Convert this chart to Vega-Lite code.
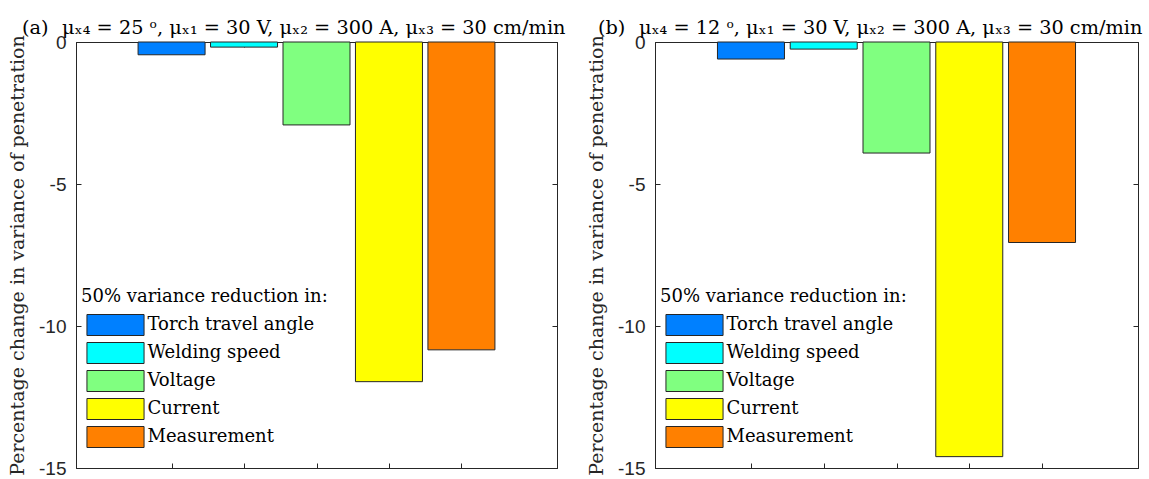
{
  "$schema": "https://vega.github.io/schema/vega-lite/v6.json",
  "padding": {"left": 8, "top": 18, "right": 5, "bottom": 5},
  "background": "white",
  "datasets": {
    "bars": [
      {"panel": "a", "cat": "Torch travel angle", "pos": 1, "value": -0.45},
      {"panel": "a", "cat": "Welding speed", "pos": 2, "value": -0.18},
      {"panel": "a", "cat": "Voltage", "pos": 3, "value": -2.92},
      {"panel": "a", "cat": "Current", "pos": 4, "value": -11.96},
      {"panel": "a", "cat": "Measurement", "pos": 5, "value": -10.84},
      {"panel": "b", "cat": "Torch travel angle", "pos": 1, "value": -0.6},
      {"panel": "b", "cat": "Welding speed", "pos": 2, "value": -0.25},
      {"panel": "b", "cat": "Voltage", "pos": 3, "value": -3.91},
      {"panel": "b", "cat": "Current", "pos": 4, "value": -14.6},
      {"panel": "b", "cat": "Measurement", "pos": 5, "value": -7.06}
    ]
  },
  "data": {"name": "bars"},
  "config": {
    "view": {"stroke": "#262626", "strokeWidth": 1},
    "axis": {
      "domainColor": "#262626", "tickColor": "#262626", "tickSize": -5, "tickWidth": 1,
      "labelFont": "Liberation Sans", "labelFontSize": 19, "labelColor": "#262626",
      "grid": false, "zindex": 1,
      "titleFont": "DejaVu Serif", "titleFontSize": 19, "titleFontWeight": "normal", "titleColor": "#262626"
    },
    "title": {"font": "DejaVu Serif", "fontSize": 19.3, "fontWeight": "normal", "color": "black"},
    "legend": {
      "orient": "none", "legendX": 5, "legendY": 246, "padding": 0,
      "titleFont": "DejaVu Serif", "titleFontSize": 18, "titleFontWeight": "normal", "titleColor": "black", "titlePadding": 8, "titleLimit": 400,
      "labelFont": "DejaVu Serif", "labelFontSize": 18, "labelColor": "black", "labelOffset": 21, "labelLimit": 400,
      "symbolType": "M-2.72,-1H2.72V1H-2.72Z", "symbolSize": 441, "symbolOffset": 23.5,
      "symbolStrokeColor": "#262626", "symbolStrokeWidth": 1, "symbolOpacity": 1, "rowPadding": 2
    }
  },
  "spacing": 21,
  "resolve": {"scale": {"color": "shared"}, "legend": {"color": "independent"}},
  "hconcat": [
    {
      "width": 481, "height": 426,
      "title": {"text": "(a)\u2002\u2009μₓ₄ = 25 ᵒ, μₓ₁ = 30 V, μₓ₂ = 300 A, μₓ₃ = 30 cm/min", "anchor": "start", "frame": "group", "dx": -54, "baseline": "alphabetic", "offset": -20},
      "transform": [{"filter": "datum.panel === 'a'"}],
      "layer": [
        {
          "mark": {"type": "bar", "size": 67, "stroke": "#262626", "strokeWidth": 1},
          "encoding": {
            "x": {"field": "pos", "type": "quantitative", "scale": {"domain": [-0.25, 6.25], "nice": false, "zero": false},
                  "axis": {"orient": "bottom", "values": [1, 2, 3, 4, 5], "labels": false, "title": null}},
            "y": {"field": "value", "type": "quantitative", "scale": {"domain": [-15, 0], "nice": false},
                  "axis": {"orient": "left", "values": [0, -5, -10, -15], "labelPadding": 15, "labelExpr": "datum.value == 0 ? '0' : '-' + abs(datum.value)",
                           "title": "Percentage change in variance of penetration", "titlePadding": 11}},
            "y2": {"datum": 0},
            "color": {"field": "cat", "type": "nominal",
                      "scale": {"domain": ["Torch travel angle", "Welding speed", "Voltage", "Current", "Measurement"],
                                "range": ["#0080FF", "#00FFFF", "#80FF80", "#FFFF00", "#FF8000"]},
                      "legend": {"title": "50% variance reduction in:"}}
          }
        },
        {
          "mark": {"type": "bar", "size": 67, "opacity": 0},
          "encoding": {
            "x": {"field": "pos", "type": "quantitative", "axis": {"orient": "top", "values": [1, 2, 3, 4, 5], "labels": false, "title": null}},
            "y": {"field": "value", "type": "quantitative", "axis": {"orient": "right", "values": [0, -5, -10, -15], "labels": false, "title": null}},
            "y2": {"datum": 0}
          }
        }
      ],
      "resolve": {"axis": {"x": "independent", "y": "independent"}}
    },
    {
      "width": 483, "height": 426,
      "title": {"text": "(b)\u2002\u2009μₓ₄ = 12 ᵒ, μₓ₁ = 30 V, μₓ₂ = 300 A, μₓ₃ = 30 cm/min", "anchor": "start", "frame": "group", "dx": -57, "baseline": "alphabetic", "offset": -20},
      "transform": [{"filter": "datum.panel === 'b'"}],
      "layer": [
        {
          "mark": {"type": "bar", "size": 67, "stroke": "#262626", "strokeWidth": 1},
          "encoding": {
            "x": {"field": "pos", "type": "quantitative", "scale": {"domain": [-0.25, 6.25], "nice": false, "zero": false},
                  "axis": {"orient": "bottom", "values": [1, 2, 3, 4, 5], "labels": false, "title": null}},
            "y": {"field": "value", "type": "quantitative", "scale": {"domain": [-15, 0], "nice": false},
                  "axis": {"orient": "left", "values": [0, -5, -10, -15], "labelPadding": 15, "labelExpr": "datum.value == 0 ? '0' : '-' + abs(datum.value)",
                           "title": "Percentage change in variance of penetration", "titlePadding": 11}},
            "y2": {"datum": 0},
            "color": {"field": "cat", "type": "nominal",
                      "scale": {"domain": ["Torch travel angle", "Welding speed", "Voltage", "Current", "Measurement"],
                                "range": ["#0080FF", "#00FFFF", "#80FF80", "#FFFF00", "#FF8000"]},
                      "legend": {"title": "50% variance reduction in:"}}
          }
        },
        {
          "mark": {"type": "bar", "size": 67, "opacity": 0},
          "encoding": {
            "x": {"field": "pos", "type": "quantitative", "axis": {"orient": "top", "values": [1, 2, 3, 4, 5], "labels": false, "title": null}},
            "y": {"field": "value", "type": "quantitative", "axis": {"orient": "right", "values": [0, -5, -10, -15], "labels": false, "title": null}},
            "y2": {"datum": 0}
          }
        }
      ],
      "resolve": {"axis": {"x": "independent", "y": "independent"}}
    }
  ]
}
